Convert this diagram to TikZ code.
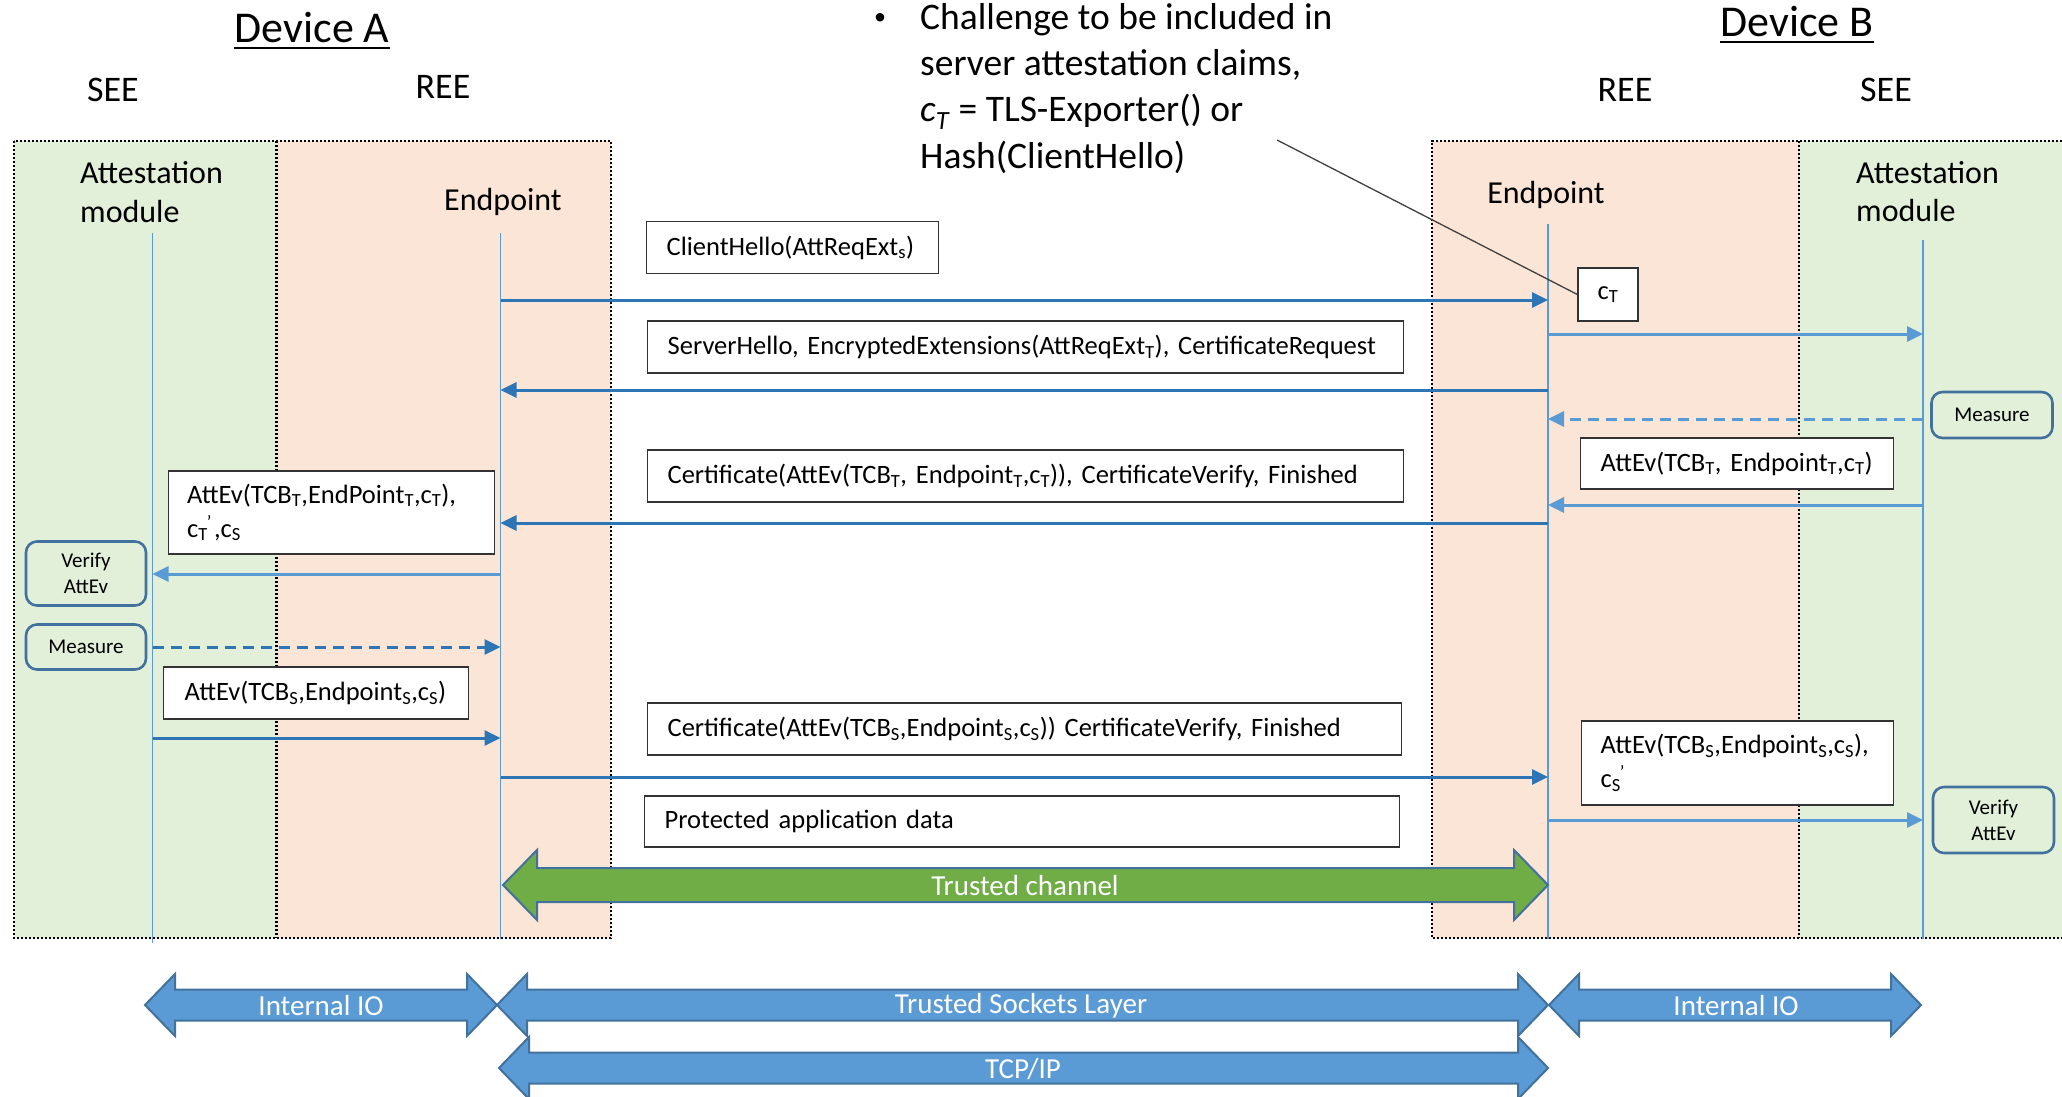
\documentclass[tikz,border=0pt]{standalone}
\usepackage{fontspec}
\setmainfont{Carlito}
\usetikzlibrary{arrows.meta}

\definecolor{seegreen}{HTML}{E2F0D9}
\definecolor{reeorange}{HTML}{FBE5D6}
\definecolor{lineblue}{HTML}{5B9BD5}
\definecolor{darkblue}{HTML}{2E75B6}
\definecolor{edgeblue}{HTML}{41719C}
\definecolor{chgreen}{HTML}{70AD47}

\newcommand\fsz[2]{\fontsize{#1}{#2}\selectfont}
% wide double-headed block arrow: [style]{x1}{x2}{y centre}{shaft half}{head half}{head length}
\newcommand\wideArrow[7][]{%
  \draw[#1] (#2,#4) -- ({#2+#7},{#4-#6}) -- ({#2+#7},{#4-#5}) -- ({#3-#7},{#4-#5})
    -- ({#3-#7},{#4-#6}) -- (#3,#4) -- ({#3-#7},{#4+#6}) -- ({#3-#7},{#4+#5})
    -- ({#2+#7},{#4+#5}) -- ({#2+#7},{#4+#6}) -- cycle;}

\begin{document}
\begin{tikzpicture}[x=1pt,y=-1pt,
  dotborder/.style={draw=black, line width=2.2pt, dash pattern=on 2.2pt off 1.8pt},
  lifeline/.style={draw=lineblue, line width=1.4pt},
  tip/.style={-{Triangle[length=16pt,width=15pt]}},
  msgdark/.style={draw=darkblue, line width=3pt, tip},
  msglight/.style={draw=lineblue, line width=3pt, tip},
  dashedmsg/.style={dash pattern=on 11pt off 7pt},
  msgbox/.style={draw=black!80, line width=1.3pt, fill=white, font=\fsz{26.5}{34},
    inner xsep=20pt, inner ysep=0pt, align=left, anchor=west},
  actbox/.style={draw=edgeblue, line width=2.6pt, rounded corners=11pt, fill=seegreen,
    font=\fsz{21}{26}, align=center, inner sep=0pt},
  heading/.style={font=\fsz{44}{50}, anchor=base, inner sep=0pt},
  envlabel/.style={font=\fsz{36}{40}, anchor=base, inner sep=0pt},
  partlabel/.style={font=\fsz{32}{39}, inner sep=0pt},
  blockarrow/.style={fill=lineblue, draw=edgeblue, line width=2pt, line join=miter},
  greenarrow/.style={fill=chgreen, draw=edgeblue, line width=2pt, line join=miter},
  arrowtext/.style={font=\fsz{29}{32}, text=white, inner sep=0pt},
  pointer/.style={draw=black!75, line width=1.3pt}]

\useasboundingbox (0,0) rectangle (2062,1097);

% execution environments
\fill[seegreen]  (14,141) rectangle (276.5,938);
\fill[reeorange] (276.5,141) rectangle (611,938);
\fill[reeorange] (1432,141) rectangle (1799,938);
\fill[seegreen]  (1799,141) rectangle (2062,938);
\draw[dotborder] (14,141) rectangle (611,938);
\draw[dotborder] (276.5,141) -- (276.5,938);
\draw[dotborder] (2062,141) -- (1432,141) -- (1432,938) -- (2062,938);
\draw[dotborder] (1799,141) -- (1799,938);

% headings
\node[heading] (devA) at (312,43) {Device A};
\draw[line width=2.2pt] ([yshift=-5pt]devA.base west) -- ([yshift=-5pt]devA.base east);
\node[heading] (devB) at (1797,37) {Device B};
\draw[line width=2.2pt] ([yshift=-5pt]devB.base west) -- ([yshift=-5pt]devB.base east);
\node[envlabel] (seeA) at (113,102) {SEE};
\node[envlabel] (reeA) at (443,99) {REE};
\node[envlabel] (reeB) at (1625,102) {REE};
\node[envlabel] (seeB) at (1886,102) {SEE};

% participants
\node[partlabel, anchor=base west] (attA1) at (80,183) {Attestation};
\node[partlabel, anchor=base west] (attA2) at (80,222) {module};
\node[partlabel, anchor=base] (epA) at (503,210) {Endpoint};
\node[partlabel, anchor=base] (epB) at (1546,204) {Endpoint};
\node[partlabel, anchor=base west] (attB1) at (1856,183) {Attestation};
\node[partlabel, anchor=base west] (attB2) at (1856,221) {module};

% lifelines
\coordinate (LA) at (152.5,233);
\coordinate (LE) at (500.5,233);
\coordinate (RE) at (1548,224);
\coordinate (RA) at (1923,240);
\draw[lifeline] (LA) -- (LA |- 0,943);
\draw[lifeline] (LE) -- (LE |- 0,939);
\draw[lifeline] (RE) -- (RE |- 0,939);
\draw[lifeline] (RA) -- (RA |- 0,939);

% challenge note (base anchor sits on the last line)
\node[anchor=base west, align=left, font=\fsz{37.5}{46.3}, inner sep=0pt] (note) at (920,168)
  {\llap{\makebox[46pt][l]{\fsz{24}{24}\raisebox{5pt}{•}}}Challenge to be included in\\
   server attestation claims,\\
   \textit{c}\textsubscript{\textit{T}} = TLS-Exporter() or\\
   Hash(ClientHello)};
\coordinate (noteend) at (1277,140);

% handshake messages
\draw[msgdark]  (LE |- 0,300) -- (RE |- 0,300);
\draw[msglight] (RE |- 0,334) -- (RA |- 0,334);
\draw[msgdark]  (RE |- 0,390) -- (LE |- 0,390);
\draw[msglight, dashedmsg] (RA |- 0,419) -- (RE |- 0,419);
\draw[msglight] (RA |- 0,505) -- (RE |- 0,505);
\draw[msgdark]  (RE |- 0,523) -- (LE |- 0,523);
\draw[msglight] (LE |- 0,574) -- (LA |- 0,574);
\draw[msgdark, dashedmsg] (LA |- 0,647) -- (LE |- 0,647);
\draw[msgdark]  (LA |- 0,738) -- (LE |- 0,738);
\draw[msgdark]  (LE |- 0,777) -- (RE |- 0,777);
\draw[msglight] (RE |- 0,820) -- (RA |- 0,820);

% message labels
\node[msgbox, text width=252pt, minimum height=52pt] (cli) at (646,247.5)
  {ClientHello(AttReqExt\textsubscript{s})};
\node[msgbox, text width=716pt, minimum height=52pt] (srv) at (647,347)
  {ServerHello, EncryptedExtensions(AttReqExt\textsubscript{T}), CertificateRequest};
\node[msgbox, text width=716pt, minimum height=52pt] (certT) at (647,476)
  {Certificate(AttEv(TCB\textsubscript{T}, Endpoint\textsubscript{T},c\textsubscript{T})), CertificateVerify, Finished};
\node[msgbox, text width=714pt, minimum height=52pt] (certS) at (647,729)
  {Certificate(AttEv(TCB\textsubscript{S},Endpoint\textsubscript{S},c\textsubscript{S})) CertificateVerify, Finished};
\node[msgbox, text width=715pt, minimum height=51pt] (prot) at (644,821.5)
  {Protected application data};
\node[msgbox, text width=273pt, minimum height=51pt] (evTB) at (1580,463.5)
  {AttEv(TCB\textsubscript{T}, Endpoint\textsubscript{T},c\textsubscript{T})};
\node[msgbox, inner xsep=19pt, text width=288pt, minimum height=83pt] (evTA) at (167.5,512.5)
  {AttEv(TCB\textsubscript{T},EndPoint\textsubscript{T},c\textsubscript{T}),\\
   c\textsubscript{T}\kern-1pt\textsuperscript{’}\kern2pt,c\textsubscript{S}};
\node[msgbox, inner xsep=21pt, text width=263pt, minimum height=52pt] (evSA) at (163,693)
  {AttEv(TCB\textsubscript{S},Endpoint\textsubscript{S},c\textsubscript{S})};
\node[msgbox, inner xsep=19pt, text width=274pt, minimum height=84pt] (evSB) at (1581,763)
  {AttEv(TCB\textsubscript{S},Endpoint\textsubscript{S},c\textsubscript{S}),\\
   c\textsubscript{S}\kern-1pt\textsuperscript{’}};
\node[msgbox, anchor=center, align=center, inner xsep=0pt, minimum width=60pt, minimum height=53pt] (cT) at (1608,294.5)
  {c\textsubscript{T}};
\draw[pointer] (noteend) -- (cT.west);

% local actions
\node[actbox, minimum width=120pt, minimum height=64pt] (verA) at (86,573.5) {Verify\\AttEv};
\node[actbox, minimum width=120pt, minimum height=45pt] (meaA) at (86,647) {Measure};
\node[actbox, minimum width=121pt, minimum height=46pt] (meaB) at (1992,415) {Measure};
\node[actbox, minimum width=121pt, minimum height=66pt] (verB) at (1993.5,820) {Verify\\AttEv};

% channels and layers
\wideArrow[greenarrow]{503}{1548}{885}{17}{35}{34}
\node[arrowtext] (tchan) at (1025,886) {Trusted channel};
\wideArrow[blockarrow]{145}{497}{1005}{15.5}{31}{30}
\node[arrowtext] (ioA) at (321,1006) {Internal IO};
\wideArrow[blockarrow]{497}{1548}{1005}{15.5}{31}{30}
\node[arrowtext] (tsl) at (1021,1006) {Trusted Sockets Layer};
\wideArrow[blockarrow]{1549}{1921}{1005}{15.5}{31}{30}
\node[arrowtext] (ioB) at (1736,1006) {Internal IO};
\wideArrow[blockarrow]{499}{1548}{1068}{15.5}{31}{30}
\node[arrowtext] (tcp) at (1023,1069) {TCP/IP};

\end{tikzpicture}
\end{document}
